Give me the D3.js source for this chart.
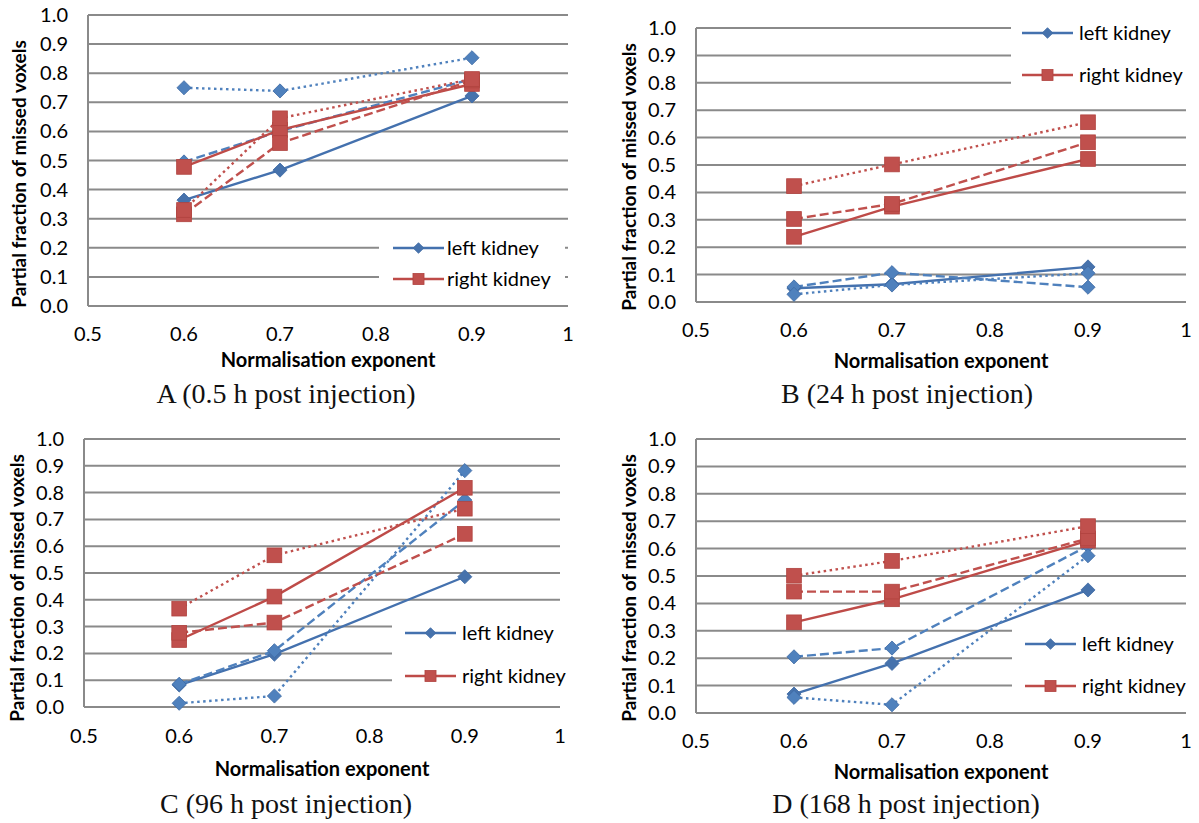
<!DOCTYPE html>
<html>
<head>
<meta charset="utf-8">
<script src="https://cdn.jsdelivr.net/npm/d3@7"></script>
<style>
  body { margin: 0; background: #fff; }
  svg { display: block; }
</style>
</head>
<body>
<svg id="chart" width="1199" height="823"></svg>
<script>
'use strict';

// x values of the measured points and axis ticks
const exponents = [0.6, 0.7, 0.9];
const xTicks = [0.5, 0.6, 0.7, 0.8, 0.9, 1];
const yTicks = [0, 0.1, 0.2, 0.3, 0.4, 0.5, 0.6, 0.7, 0.8, 0.9, 1.0];
const kidneys = ['left kidney', 'right kidney'];
const variants = ['solid', 'dashed', 'dotted'];
const captions = ['A (0.5 h post injection)', 'B (24 h post injection)',
                  'C (96 h post injection)', 'D (168 h post injection)'];

// each row: solid, dashed, dotted series (values at 0.6, 0.7, 0.9)
const leftA  = [[0.364, 0.467, 0.722], [0.495, 0.601, 0.780], [0.750, 0.739, 0.853]];
const rightA = [[0.478, 0.605, 0.763], [0.315, 0.560, 0.775], [0.330, 0.645, 0.780]];
const leftB  = [[0.050, 0.065, 0.128], [0.055, 0.107, 0.054], [0.028, 0.062, 0.105]];
const rightB = [[0.238, 0.348, 0.522], [0.303, 0.358, 0.583], [0.423, 0.502, 0.656]];
const leftC  = [[0.082, 0.197, 0.486], [0.085, 0.210, 0.772], [0.014, 0.041, 0.882]];
const rightC = [[0.250, 0.412, 0.818], [0.277, 0.315, 0.646], [0.367, 0.566, 0.740]];
const leftD  = [[0.069, 0.181, 0.449], [0.205, 0.237, 0.610], [0.057, 0.030, 0.574]];
const rightD = [[0.331, 0.415, 0.629], [0.443, 0.443, 0.637], [0.501, 0.555, 0.682]];

const panelData = [[leftA, rightA], [leftB, rightB], [leftC, rightC], [leftD, rightD]];

// layout of each panel (pixels)
const layout = [
    {x0: 88, x1: 568, yTop: 15, yBot: 306, tickY: 341, titleY: 367, capX: 286, capY: 403, yTitleX: 19, yTitleY: 174,
     leg: {x: 379, w: 186, top: 232, bot: 294, rows: [248, 279], lineX: 393, textX: 447}},
    {x0: 696, x1: 1186, yTop: 28, yBot: 302, tickY: 337, titleY: 368, capX: 907, capY: 403, yTitleX: 629, yTitleY: 177,
     leg: {x: 1011, w: 188, top: 20, bot: 96, rows: [33, 75], lineX: 1022, textX: 1079}},
    {x0: 84, x1: 560, yTop: 439, yBot: 707, tickY: 743, titleY: 776, capX: 286, capY: 813, yTitleX: 17, yTitleY: 588,
     leg: {x: 392, w: 183, top: 612, bot: 694, rows: [633, 676], lineX: 405, textX: 462}},
    {x0: 696, x1: 1186, yTop: 439, yBot: 713, tickY: 748, titleY: 779, capX: 906, capY: 813, yTitleX: 629, yTitleY: 588,
     leg: {x: 1012, w: 187, top: 616, bot: 700, rows: [644, 686], lineX: 1025, textX: 1082}}
];

const colors = {
    left:  {solidLine: '#4471AE', line: '#4F81BD', solidFill: '#4672AC', fill: '#4F81BD', stroke: '#3D69A3'},
    right: {solidLine: '#BE4B48', line: '#C0504D', solidFill: '#C0504D', fill: '#C0504D', stroke: '#B0433F'}
};
const dashes = {solid: null, dashed: '9,4', dotted: '2.5,3.5'};
const sansFont = 'Lato, "Open Sans", sans-serif';
const serifFont = '"Liberation Serif", "DejaVu Serif", serif';

const svg = d3.select('#chart');

function marker(g, kind, x, y, size, c, isSolid) {
    if (kind === 0) {
        g.append('path')
            .attr('d', d3.symbol().type(d3.symbolDiamond2).size(size * size * 0.5)())
            .attr('transform', `translate(${x},${y})`)
            .attr('fill', isSolid ? c.solidFill : c.fill)
            .attr('stroke', c.stroke).attr('stroke-width', 0.8);
    } else {
        const s = size * 0.92;
        g.append('rect')
            .attr('x', x - s / 2).attr('y', y - s / 2)
            .attr('width', s).attr('height', s)
            .attr('fill', c.fill)
            .attr('stroke', c.stroke).attr('stroke-width', 0.8);
    }
}

function drawPanel(idx) {
    const L = layout[idx];
    const g = svg.append('g');
    const x = d3.scaleLinear().domain([0.5, 1]).range([L.x0, L.x1]);
    const y = d3.scaleLinear().domain([0, 1]).range([L.yBot, L.yTop]);

    // grid lines
    g.selectAll('.grid').data(yTicks).enter().append('line')
        .attr('x1', L.x0).attr('x2', L.x1)
        .attr('y1', d => y(d)).attr('y2', d => y(d))
        .attr('stroke', '#8A8A8A').attr('stroke-width', 2);
    g.append('line')
        .attr('x1', L.x0).attr('x2', L.x0).attr('y1', L.yTop).attr('y2', L.yBot)
        .attr('stroke', '#8A8A8A').attr('stroke-width', 2);

    // y tick labels
    g.selectAll('.ytl').data(yTicks).enter().append('text')
        .attr('x', L.x0 - 20).attr('y', d => y(d) + 7)
        .attr('text-anchor', 'end')
        .style('font', `20px ${sansFont}`).attr('fill', '#000')
        .text(d => d3.format('.1f')(d));

    // x tick labels
    g.selectAll('.xtl').data(xTicks).enter().append('text')
        .attr('x', d => x(d)).attr('y', L.tickY)
        .attr('text-anchor', 'middle')
        .style('font', `20px ${sansFont}`).attr('fill', '#000')
        .text(d => d3.format('')(d));

    // axis titles
    g.append('text')
        .attr('x', (L.x0 + L.x1) / 2).attr('y', L.titleY)
        .attr('text-anchor', 'middle')
        .style('font', `bold 20px ${sansFont}`)
        .text('Normalisation exponent');
    g.append('text')
        .attr('transform', `translate(${L.yTitleX + 7},${L.yTitleY}) rotate(-90)`)
        .attr('text-anchor', 'middle')
        .style('font', `bold 19px ${sansFont}`)
        .text('Partial fraction of missed voxels');

    // caption
    g.append('text')
        .attr('x', L.capX).attr('y', L.capY)
        .attr('text-anchor', 'middle')
        .style('font', `28px ${serifFont}`).attr('fill', '#111')
        .text(captions[idx]);

    // legend background hides grid lines
    const leg = L.leg;
    g.append('rect')
        .attr('x', leg.x).attr('y', leg.top)
        .attr('width', leg.w).attr('height', leg.bot - leg.top)
        .attr('fill', '#fff');

    // series
    const line = d3.line().x((d, i) => x(exponents[i])).y(d => y(d));
    panelData[idx].forEach((kidney, k) => {
        const c = k === 0 ? colors.left : colors.right;
        kidney.forEach((vals, v) => {
            const style = variants[v];
            const isSolid = style === 'solid';
            g.append('path')
                .datum(vals)
                .attr('d', line)
                .attr('fill', 'none')
                .attr('stroke', isSolid ? c.solidLine : c.line)
                .attr('stroke-width', 2.4)
                .attr('stroke-dasharray', dashes[style]);
            vals.forEach((val, i) => marker(g, k, x(exponents[i]), y(val), 16, c, isSolid));
        });
    });

    // legend entries
    kidneys.forEach((name, k) => {
        const c = k === 0 ? colors.left : colors.right;
        const ly = leg.rows[k];
        g.append('line')
            .attr('x1', leg.lineX).attr('x2', leg.lineX + 51)
            .attr('y1', ly).attr('y2', ly)
            .attr('stroke', c.solidLine).attr('stroke-width', 2.4);
        marker(g, k, leg.lineX + 25.5, ly, 12, c, true);
        g.append('text')
            .attr('x', leg.textX).attr('y', ly + 7)
            .style('font', `20px ${sansFont}`)
            .text(name);
    });
}

layout.forEach((_, i) => drawPanel(i));
</script>
</body>
</html>
